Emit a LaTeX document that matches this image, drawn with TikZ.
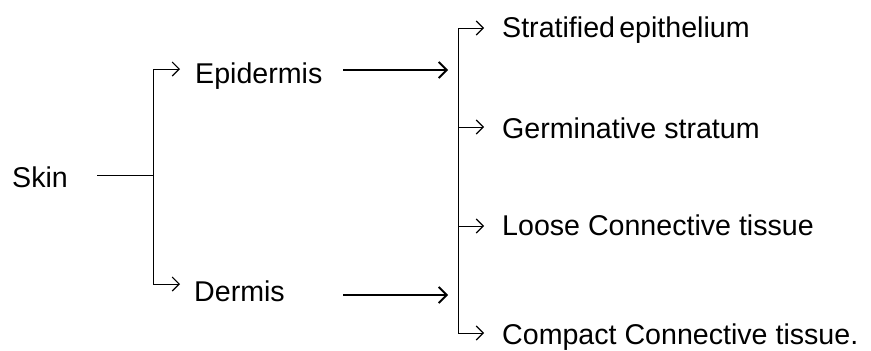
\documentclass[tikz,border=0pt]{standalone}
\usepackage{fontspec}
\setmainfont{Liberation Sans}
\usetikzlibrary{arrows.meta}
\begin{document}
\begin{tikzpicture}[x=1pt,y=-1pt,
  lbl/.style={anchor=base west,inner sep=0pt,font=\fontsize{28.6}{30}\selectfont},
  thin/.style={line width=1pt},
  sarr/.style={thin,-{Straight Barb[length=7pt,width=14pt,line width=1.1pt]}},
  larr/.style={line width=1.8pt,-{Straight Barb[length=8pt,width=16pt,line width=1.8pt]}}]
\useasboundingbox (0,0) rectangle (871,351);
% labels
\node[lbl] (skin) at (12,187) {Skin};
\node[lbl] (epi) at (195,83) {Epidermis};
\node[lbl] (der) at (194,301) {Dermis};
\node[lbl] (strat) at (502,37) {Stratified\hspace{0.15em}epithelium};
\node[lbl] (germ) at (502,138) {Germinative stratum};
\node[lbl] (loose) at (502,235) {Loose Connective tissue};
\node[lbl] (comp) at (502,344) {Compact Connective tissue.};
% first bracket
\coordinate (s0) at (97,175);
\coordinate (j1) at (153,175);
\coordinate (b1t) at (153,69);
\coordinate (b1b) at (153,284);
\draw[thin] (s0) -- (j1);
\draw[thin] (b1t) -- (b1b);
\draw[sarr] (b1t) -- ([xshift=-15pt]epi.west |- b1t);
\draw[sarr] (b1b) -- ([xshift=-14pt]der.west |- b1b);
% long arrows
\coordinate (e1) at (343,70);
\coordinate (e2) at (448,70);
\coordinate (d1) at (343,295);
\coordinate (d2) at (448,295);
\draw[larr] (e1) -- (e2);
\draw[larr] (d1) -- (d2);
% second bracket
\coordinate (b2t) at (458,28);
\coordinate (b2g) at (458,127);
\coordinate (b2l) at (458,226);
\coordinate (b2b) at (458,333);
\draw[thin] (b2t) -- (b2b);
\draw[sarr] (b2t) -- ([xshift=-18pt]strat.west |- b2t);
\draw[sarr] (b2g) -- ([xshift=-18pt]germ.west |- b2g);
\draw[sarr] (b2l) -- ([xshift=-18pt]loose.west |- b2l);
\draw[sarr] (b2b) -- ([xshift=-18pt]comp.west |- b2b);
\end{tikzpicture}
\end{document}
